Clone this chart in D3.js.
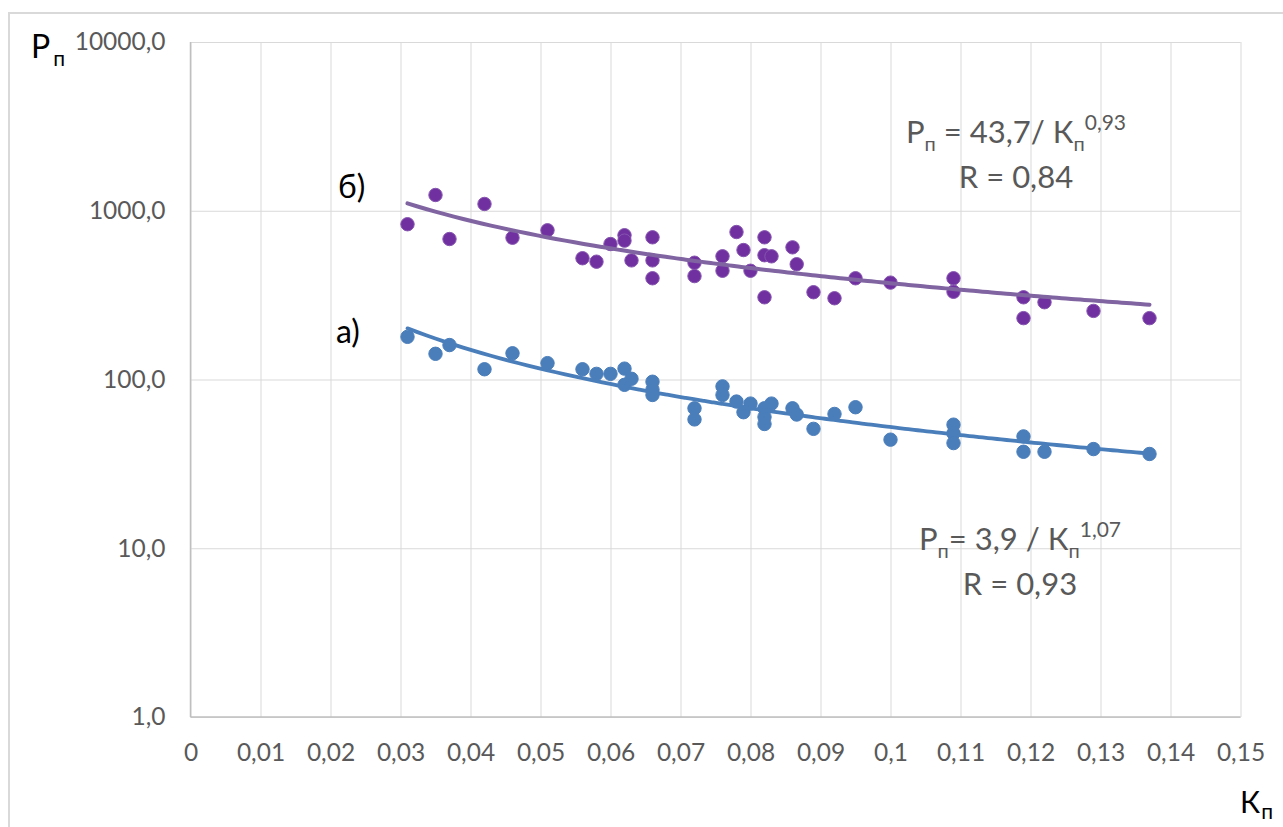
<!DOCTYPE html>
<html>
<head>
<meta charset="utf-8">
<script src="https://cdn.jsdelivr.net/npm/d3@7"></script>
<style>
  body { margin:0; background:#fff; }
  text { font-family: Lato, "Open Sans", sans-serif; }
</style>
</head>
<body>
<div id="chart-area"></div>
<script>
/* Data */
// series б) (purple)
var purpleK = [0.031, 0.035, 0.037, 0.042, 0.046, 0.051, 0.056, 0.058, 0.060, 0.062,
               0.062, 0.063, 0.066, 0.066, 0.066, 0.072, 0.072, 0.076, 0.076, 0.078,
               0.079, 0.080, 0.082, 0.082, 0.082, 0.083, 0.086, 0.0866, 0.089, 0.092,
               0.095, 0.100, 0.109, 0.109, 0.119, 0.119, 0.122, 0.129, 0.137];
var purpleP = [832, 1240, 680, 1097, 692, 766, 523, 499, 635, 716,
               665, 508, 696, 508, 398, 492, 410, 537, 441, 748,
               585, 441, 696, 545, 307, 537, 607, 482, 329, 303,
               398, 375, 398, 331, 307, 231, 287, 255, 231];

// series а) (blue)
var blueK = [0.031, 0.035, 0.037, 0.042, 0.046, 0.051, 0.056, 0.058, 0.060, 0.062,
             0.062, 0.063, 0.066, 0.066, 0.066, 0.072, 0.072, 0.076, 0.076, 0.078,
             0.079, 0.080, 0.082, 0.082, 0.082, 0.083, 0.086, 0.0866, 0.089, 0.092,
             0.095, 0.100, 0.109, 0.109, 0.109, 0.119, 0.119, 0.122, 0.129, 0.137];
var blueP = [179, 142, 160, 115, 143, 125, 115, 108, 108, 116,
             93, 101, 97, 87, 81, 67.5, 58, 91, 81, 74,
             64, 72, 67.5, 60, 54.5, 72, 67.5, 62, 51, 62.5,
             68.5, 44, 54, 48, 42, 46, 37.3, 37.3, 38.7, 36.2];

// power trendlines P = a / K^b, drawn over [kFrom, kTo]
var purpleTrend = [43.7, 0.93];
var blueTrend = [3.7, 1.15];
var trendRange = [0.031, 0.137];

// ticks
var xTicks = [0, 0.01, 0.02, 0.03, 0.04, 0.05, 0.06, 0.07, 0.08, 0.09, 0.1, 0.11, 0.12, 0.13, 0.14, 0.15];
var yTicks = [1, 10, 100, 1000, 10000];


/* Margin convention */
var margin = { top:42, right:42.5, bottom:110, left:190.5 };
var W = 1283, H = 827;
var width = W - margin.left - margin.right;   // 1050
var height = H - margin.top - margin.bottom;  // 675

var svg = d3.select("#chart-area").append("svg")
  .attr("width", W)
  .attr("height", H);

// chart border (runs off the right and bottom edges)
svg.append("rect")
  .attr("x", 9).attr("y", 13)
  .attr("width", 1300).attr("height", 840)
  .attr("fill", "none")
  .attr("stroke", "#d9d9d9")
  .attr("stroke-width", 2);

var g = svg.append("g")
  .attr("transform", "translate(" + margin.left + "," + margin.top + ")");

/* Scales */
var x = d3.scaleLinear().domain([0, 0.15]).range([0, width]);
var y = d3.scaleLog().domain([1, 10000]).range([height, 0]);

var loc = d3.formatLocale({ decimal:",", thousands:"", grouping:[3], currency:["",""] });
var fmtX = loc.format(".2~f");
var fmtY = loc.format(".1f");

/* Axes with gridlines */
var xAxisGroup = g.append("g")
  .attr("transform", "translate(0," + height + ")")
  .call(d3.axisBottom(x).tickValues(xTicks).tickSize(-height).tickPadding(27).tickFormat(fmtX));

var yAxisGroup = g.append("g")
  .call(d3.axisLeft(y).tickValues(yTicks).tickSize(-width).tickPadding(25).tickFormat(fmtY));

[xAxisGroup, yAxisGroup].forEach(function(a){
  a.select(".domain").remove();
  a.selectAll(".tick line").attr("stroke", "#d9d9d9").attr("stroke-width", 1);
  a.selectAll(".tick text")
    .attr("fill", "#595959")
    .attr("font-size", "24.5px")
    .attr("font-family", "Lato, 'Open Sans', sans-serif");
});

// axis lines
g.append("line")
  .attr("x1", 0).attr("x2", width)
  .attr("y1", height).attr("y2", height)
  .attr("stroke", "#bfbfbf").attr("stroke-width", 1.5);
g.append("line")
  .attr("x1", 0).attr("x2", 0)
  .attr("y1", 0).attr("y2", height)
  .attr("stroke", "#bfbfbf").attr("stroke-width", 1.5);


/* Trendlines */
function trendData(p){
  var n = 80, out = [];
  for (var i = 0; i <= n; i++) {
    var k = trendRange[0] + (trendRange[1] - trendRange[0]) * i / n;
    out.push([k, p[0] / Math.pow(k, p[1])]);
  }
  return out;
}
var line = d3.line()
  .x(function(d){ return x(d[0]); })
  .y(function(d){ return y(d[1]); })
  .curve(d3.curveMonotoneX);


/* Points */
function drawSeries(ks, ps, fill, stroke){
  g.append("g").selectAll("circle")
    .data(ks.map(function(k, i){ return { k:k, p:ps[i] }; }))
    .enter()
    .append("circle")
      .attr("cx", function(d){ return x(d.k); })
      .attr("cy", function(d){ return y(d.p); })
      .attr("r", 6.7)
      .attr("fill", fill)
      .attr("stroke", stroke)
      .attr("stroke-width", 1);
}

drawSeries(purpleK, purpleP, "#7030a0", "#8655b0");
drawSeries(blueK, blueP, "#4a7ebb", "#4a7ebb");

g.append("path")
  .attr("d", line(trendData(purpleTrend)))
  .attr("fill", "none")
  .attr("stroke", "#8064a2")
  .attr("stroke-width", 4)
  .attr("stroke-linecap", "round");

g.append("path")
  .attr("d", line(trendData(blueTrend)))
  .attr("fill", "none")
  .attr("stroke", "#4a7ebb")
  .attr("stroke-width", 3.8)
  .attr("stroke-linecap", "round");


/* Axis titles */
var yTitle = svg.append("text").attr("x", 31).attr("y", 58).attr("fill", "#000");
yTitle.append("tspan").attr("font-size", "32px").text("P");
yTitle.append("tspan").attr("font-size", "21px").attr("dy", 8).attr("dx", 3).text("п");

var xTitle = svg.append("text").attr("x", 1240).attr("y", 813).attr("fill", "#000");
xTitle.append("tspan").attr("font-size", "30px").text("К");
xTitle.append("tspan").attr("font-size", "21px").attr("dy", 6).attr("dx", 1).text("п");

/* Series labels */
svg.append("text").attr("x", 338).attr("y", 198)
  .attr("font-size", "32px").attr("fill", "#000").text("б)");
svg.append("text").attr("x", 336).attr("y", 343)
  .attr("font-size", "32px").attr("fill", "#000").text("а)");


/* Equation labels */
function equation(cx, by, coef, sep, pow, r){
  var t = svg.append("text")
    .attr("x", cx).attr("y", by)
    .attr("text-anchor", "middle")
    .attr("fill", "#595959")
    .attr("font-size", "31px");
  t.append("tspan").text("P");
  t.append("tspan").attr("font-size", "20px").attr("dy", 8).text("п");
  t.append("tspan").attr("dy", -8).text(sep + coef + " К");
  t.append("tspan").attr("font-size", "20px").attr("dy", 8).text("п");
  t.append("tspan").attr("font-size", "21px").attr("dy", -21).text(pow);

  svg.append("text")
    .attr("x", cx).attr("y", by + 45)
    .attr("text-anchor", "middle")
    .attr("fill", "#595959")
    .attr("font-size", "31px")
    .text("R = " + r);
}

equation(1016, 143, "43,7/", " = ", "0,93", "0,84");
equation(1020, 550, "3,9 /", "= ", "1,07", "0,93");
</script>
</body>
</html>
